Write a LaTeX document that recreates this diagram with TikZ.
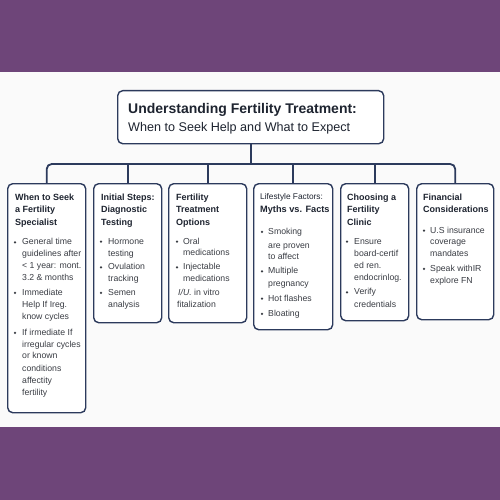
\documentclass[tikz,border=0pt]{standalone}
\usepackage{fontspec}
\setmainfont{Liberation Sans}
\definecolor{purp}{HTML}{6E4579}
\definecolor{navy}{HTML}{2C3A5C}
\definecolor{ink}{HTML}{1E2430}
\definecolor{bodyc}{HTML}{3A3D44}
\definecolor{bg}{HTML}{FAFAFA}
\newcounter{tn}
\newcommand\hdl[3]{\stepcounter{tn}\node[hd] (t\thetn) at (#1,#2+3.3) {#3};}
\newcommand\bdl[3]{\stepcounter{tn}\node[bt] (t\thetn) at (#1,#2+3.1) {#3};}
\newcommand\bdot[2]{\fill[bodyc] (#1,#2+0.6) circle (1.25pt);}
\begin{document}
\begin{tikzpicture}[x=1pt,y=-1pt,
 box/.style={draw=navy, line width=1.4pt, rounded corners=5pt, fill=white, anchor=north west, inner sep=0pt},
 conn/.style={draw=navy, line width=1.8pt},
 hd/.style={anchor=base west, inner sep=0pt, font=\fontsize{9}{11}\selectfont\bfseries, text=ink},
 bt/.style={anchor=base west, inner sep=0pt, font=\fontsize{8.7}{10}\selectfont, text=bodyc},
]
\useasboundingbox (0,0) rectangle (500,500);
\fill[bg] (0,0) rectangle (500,500);
\fill[purp] (0,0) rectangle (500,72.5);
\fill[purp] (0,427) rectangle (500,500);

% title
\node[box, minimum width=266pt, minimum height=53pt] (title) at (117,90) {};
\node[anchor=base west, inner sep=0pt, font=\fontsize{14}{16}\selectfont\bfseries, text=ink] (tt1) at (128,113.3) {Understanding Fertility Treatment:};
\node[anchor=base west, inner sep=0pt, font=\fontsize{12.6}{15}\selectfont, text=ink] (tt2) at (128,131.7) {When to Seek Help and What to Expect};

% boxes
\node[box, minimum width=78pt, minimum height=229pt] (b1) at (7,183) {};
\node[box, minimum width=68pt, minimum height=139pt] (b2) at (93,183) {};
\node[box, minimum width=78pt, minimum height=139pt] (b3) at (168,183) {};
\node[box, minimum width=79pt, minimum height=146pt] (b4) at (253,183) {};
\node[box, minimum width=68pt, minimum height=137pt] (b5) at (340,183) {};
\node[box, minimum width=77pt, minimum height=136pt] (b6) at (416,183) {};

% connectors
\coordinate (bus) at (250,164);
\draw[conn] (title.south) -- (title.south |- bus);
\draw[conn, rounded corners=5pt] (b1.north) |- (bus) -| (b6.north);
\draw[conn] (b2.north) -- (b2.north |- bus);
\draw[conn] (b3.north) -- (b3.north |- bus);
\draw[conn] (b4.north) -- (b4.north |- bus);
\draw[conn] (b5.north) -- (b5.north |- bus);

% box 1
\hdl{15}{196.7}{When to Seek}
\hdl{15}{209.3}{a Fertility}
\hdl{15}{222.3}{Specialist}
\bdot{15}{241.7}
\bdl{22}{241.7}{General time}
\bdl{22}{253.3}{guidelines after}
\bdl{22}{265.7}{< 1 year: mont.}
\bdl{22}{277.7}{3.2 \& months}
\bdot{15}{292.3}
\bdl{22}{292.3}{Immediate}
\bdl{22}{304.3}{Help If Ireg.}
\bdl{22}{316.7}{know cycles}
\bdot{15}{332.3}
\bdl{22}{332.3}{If irmediate If}
\bdl{22}{344}{irregular cycles}
\bdl{22}{355.7}{or known}
\bdl{22}{368}{conditions}
\bdl{22}{380}{affectity}
\bdl{22}{392}{fertility}

% box 2
\hdl{101}{196.7}{Initial Steps:}
\hdl{101}{209.3}{Diagnostic}
\hdl{101}{222.3}{Testing}
\bdot{101}{241}
\bdl{108}{241}{Hormone}
\bdl{108}{253}{testing}
\bdot{101}{266.7}
\bdl{108}{266.7}{Ovulation}
\bdl{108}{278.3}{tracking}
\bdot{101}{292.3}
\bdl{108}{292.3}{Semen}
\bdl{108}{304.3}{analysis}

% box 3
\hdl{176}{196.7}{Fertility}
\hdl{176}{209.3}{Treatment}
\hdl{176}{222.3}{Options}
\bdot{177}{241}
\bdl{183}{241}{Oral}
\bdl{183}{252.7}{medications}
\bdot{177}{266.7}
\bdl{183}{266.7}{Injectable}
\bdl{183}{278.7}{medications}
\bdl{178}{292.3}{\textit{I/U.} in vitro}
\bdl{177}{304.3}{fitalization}

% box 4
\stepcounter{tn}\node[anchor=base west, inner sep=0pt, font=\fontsize{8.3}{10}\selectfont, text=ink] (t\thetn) at (260,199.8) {Lifestyle Factors:};
\stepcounter{tn}\node[anchor=base west, inner sep=0pt, font=\fontsize{9.2}{11}\selectfont\bfseries, text=ink] (t\thetn) at (260,212.6) {Myths vs. Facts};
\bdot{262}{231.3}
\bdl{268}{231.3}{Smoking}
\bdl{268}{245}{are proven}
\bdl{268}{256}{to affect}
\bdot{262}{270.7}
\bdl{268}{270.7}{Multiple}
\bdl{268}{283.7}{pregnancy}
\bdot{262}{298}
\bdl{268}{298}{Hot flashes}
\bdot{262}{313.3}
\bdl{268}{313.3}{Bloating}

% box 5
\hdl{347}{196.7}{Choosing a}
\hdl{347}{209.3}{Fertility}
\hdl{347}{222.3}{Clinic}
\bdot{347}{241}
\bdl{354}{241}{Ensure}
\bdl{354}{253.3}{board-certif}
\bdl{354}{265.7}{ed ren.}
\bdl{354}{277.7}{endocrinlog.}
\bdot{347}{291.7}
\bdl{354}{291.7}{Verify}
\bdl{354}{304}{credentials}

% box 6
\hdl{423}{196.7}{Financial}
\hdl{423}{209.3}{Considerations}
\bdot{424}{230}
\bdl{430}{230}{U.S insurance}
\bdl{430}{241.3}{coverage}
\bdl{430}{253.7}{mandates}
\bdot{424}{268.3}
\bdl{430}{268.3}{Speak withIR}
\bdl{430}{280}{explore FN}
\end{tikzpicture}
\end{document}
